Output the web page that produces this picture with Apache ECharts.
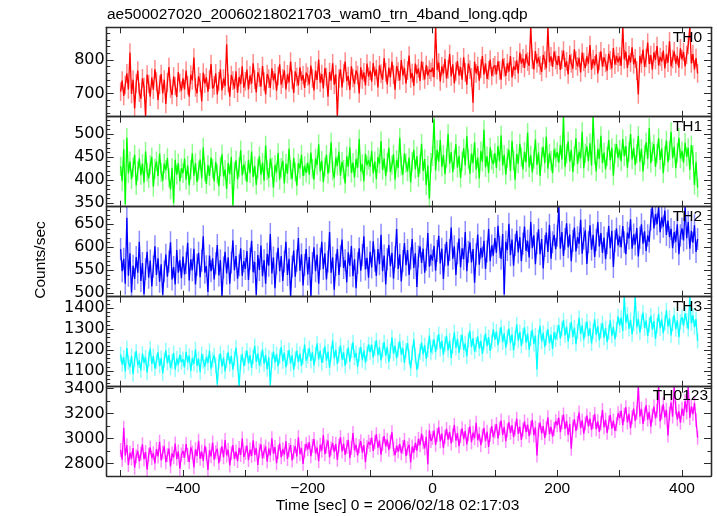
<!DOCTYPE html>
<html><head><meta charset="utf-8">
<script src="https://cdn.jsdelivr.net/npm/echarts@6/dist/echarts.min.js"></script>
<style>html,body{margin:0;padding:0;background:#fff}#c{width:717px;height:516px}</style>
</head><body><div id="c"></div>
<script>
// time grid: bins start at -500 s, every 2.5 s
const T_START = -500, T_STEP = 2.5;

const TH0 = [
705,738,692,725,760,712,822,698,741,655,730,768,702,684,745,719,633,756,728,690,747,711,772,735,680,726,758,700,741,668,733,779,714,695,750,722,689,764,731,708,
745,712,768,724,690,756,739,807,718,700,751,733,676,762,729,748,705,741,788,715,724,760,697,736,772,709,744,722,847,731,690,755,738,714,766,702,749,728,781,717,
736,771,712,754,729,790,741,703,763,748,720,782,735,697,758,744,716,775,739,760,708,752,787,726,745,769,712,757,733,795,741,701,766,749,724,778,738,755,716,762,
751,727,783,745,709,768,740,801,732,758,715,776,749,690,764,738,790,726,757,633,744,772,718,761,795,737,752,710,781,746,728,769,755,700,778,742,763,724,789,750,
768,735,791,752,772,718,784,759,741,806,763,727,777,748,795,756,711,782,765,739,800,754,776,729,768,813,745,761,722,789,758,775,737,796,767,742,785,753,771,764,
777,748,898,770,792,736,781,759,803,745,772,818,751,787,730,766,797,754,779,741,808,763,726,789,771,748,672,795,760,782,738,774,812,756,790,743,769,801,752,778,
784,757,796,769,741,803,778,752,790,765,812,748,781,770,799,760,822,789,805,776,818,795,783,898,801,772,827,790,808,784,764,815,798,775,897,793,811,779,825,800,
785,812,770,801,828,779,796,757,815,790,774,832,798,781,806,763,822,794,776,811,789,845,771,803,784,817,760,797,826,780,808,791,768,819,799,775,836,786,812,793,
810,783,898,802,825,776,814,793,838,787,805,768,697,812,790,831,779,806,852,788,815,771,823,800,842,784,809,795,828,775,817,792,856,781,803,826,789,812,777,835,
802,824,781,815,845,898,790,818,772,806,760];

const TH1 = [
430,398,467,348,492,415,441,402,428,455,389,420,447,411,436,395,462,418,404,433,450,386,425,441,409,458,417,399,436,422,448,405,380,427,351,444,412,437,398,426,
415,447,401,432,389,423,458,410,437,396,421,445,404,471,418,392,433,409,449,425,398,440,414,387,430,456,408,423,381,437,413,450,346,419,443,402,428,465,411,434,
420,396,444,415,462,407,431,390,426,452,412,438,399,475,421,405,446,428,384,433,417,459,401,427,442,393,436,414,468,422,403,448,418,388,437,425,455,409,431,416,
438,412,460,425,401,447,433,478,419,442,396,429,455,414,437,482,421,405,449,431,462,410,440,423,393,452,429,471,416,438,406,446,427,489,419,435,398,457,432,444,
429,463,415,441,402,450,436,485,422,447,409,438,470,418,433,456,401,444,427,492,431,412,458,437,419,449,395,440,466,424,452,407,435,479,420,446,389,432,360,438,
452,532,421,466,440,487,429,455,413,448,500,436,461,418,445,478,427,453,405,441,469,432,495,446,414,458,437,482,423,449,404,463,440,509,428,452,416,471,444,435,
459,426,474,441,497,432,455,412,448,466,420,485,443,401,457,436,479,450,424,462,439,503,428,454,417,446,488,433,460,409,451,472,437,494,425,458,442,415,467,449,
461,438,476,445,537,429,457,484,440,466,418,452,491,435,462,447,505,426,458,473,441,480,432,537,455,419,468,446,496,437,460,424,452,487,443,470,410,458,478,449,
466,441,489,452,474,427,461,500,445,470,433,457,496,440,468,419,455,482,446,513,437,462,478,429,458,491,444,469,415,453,486,439,464,505,448,473,426,459,492,447,
463,438,481,451,470,422,476,455,390,440,384];

const TH2 = [
596,548,575,521,664,538,587,502,560,531,579,545,612,527,566,498,553,590,534,571,515,558,602,540,576,525,563,497,548,584,536,569,611,530,557,519,594,545,572,533,
580,541,566,610,528,574,550,597,519,562,588,535,571,624,545,559,503,582,548,576,530,565,605,539,572,494,556,590,543,578,521,567,615,550,581,532,561,598,538,570,
553,592,529,575,614,546,568,497,583,551,604,537,572,521,586,560,629,543,578,511,565,599,548,581,527,569,612,540,575,494,558,593,536,571,620,549,585,517,562,596,
541,579,493,566,600,548,584,521,575,612,553,587,530,569,633,545,578,508,562,596,540,581,617,555,572,524,589,560,603,537,574,511,566,598,549,583,624,552,577,534,
590,556,613,571,538,596,563,627,548,582,519,574,605,559,588,532,579,640,553,585,526,570,609,561,594,540,576,618,555,587,514,580,602,566,597,545,573,631,558,584,
571,603,549,592,625,565,597,531,583,612,560,594,643,575,602,540,587,619,556,598,574,633,548,590,611,567,596,523,585,628,562,599,578,614,553,591,640,570,604,582,
620,588,647,601,575,629,498,612,594,651,583,617,560,605,636,589,622,570,608,645,592,614,578,655,598,626,563,609,639,585,618,554,603,632,590,649,575,611,627,596,
625,688,597,633,581,618,652,600,628,570,614,643,591,622,608,660,586,619,637,564,611,648,595,627,579,616,655,602,631,588,621,574,609,646,598,636,557,613,641,604,
624,600,646,611,585,632,619,661,597,628,606,642,580,621,650,608,635,592,626,612,660,688,641,672,650,688,633,665,645,680,627,658,622,640,598,633,612,650,585,626,
641,615,688,620,655,597,636,610,648,590,618];

const TH3 = [
1180,1132,1165,1098,1210,1141,1119,1172,1085,1156,1195,1127,1150,1103,1183,1139,1166,1092,1158,1207,1134,1171,1112,1147,1190,1124,1162,1088,1153,1199,1138,1176,1115,1145,1186,1107,1160,1130,1178,1142,
1156,1118,1192,1140,1173,1101,1162,1135,1204,1126,1158,1094,1181,1147,1120,1168,1139,1197,1111,1153,1175,1128,1036,1146,1185,1121,1164,1098,1150,1189,1133,1172,1106,1159,1212,1137,1030,1143,1180,1124,
1161,1198,1137,1176,1115,1169,1220,1143,1185,1126,1158,1203,1134,1177,1109,1166,1034,1152,1193,1140,1181,1122,1170,1214,1147,1188,1118,1163,1200,1135,1175,1106,1159,1197,1142,1183,1125,1168,1226,1150,
1172,1209,1148,1190,1127,1181,1232,1156,1197,1139,1175,1218,1150,1193,1116,1184,1246,1160,1201,1134,1178,1223,1154,1189,1125,1170,1212,1145,1196,1237,1163,1186,1120,1179,1215,1152,1199,1140,1183,1228,
1190,1226,1165,1208,1247,1176,1213,1151,1199,1238,1172,1216,1143,1195,1261,1183,1221,1160,1204,1242,1178,1210,1139,1197,1233,1168,1112,1186,1252,1173,1105,1147,1192,1236,1180,1224,1158,1201,1270,1188,
1215,1251,1190,1236,1277,1204,1243,1178,1229,1268,1199,1246,1163,1222,1285,1210,1254,1187,1238,1273,1201,1231,1170,1248,1292,1214,1257,1193,1226,1266,1207,1244,1182,1235,1279,1219,1262,1196,1240,1300,
1250,1289,1224,1271,1310,1238,1280,1212,1263,1303,1233,1275,1198,1258,1322,1245,1287,1220,1268,1309,1236,1279,1202,1255,1297,1229,1270,1108,1264,1316,1241,1283,1215,1260,1301,1232,1274,1206,1286,1251,
1284,1320,1256,1301,1343,1270,1312,1241,1295,1334,1263,1308,1229,1289,1355,1276,1318,1250,1298,1338,1267,1304,1232,1290,1347,1273,1315,1247,1293,1330,1259,1306,1238,1286,1342,1269,1311,1252,1299,1362,
1318,1355,1290,1455,1331,1372,1301,1345,1276,1327,1455,1309,1350,1283,1336,1380,1305,1341,1268,1322,1364,1298,1339,1254,1316,1373,1304,1347,1281,1330,1390,1312,1353,1270,1326,1368,1300,1344,1262,1335,
1358,1317,1376,1340,1300,1455,1329,1366,1310,1348,1244];

const TH0123 = [
2910,2832,3088,2865,2948,2790,2887,2841,2925,2768,2860,2902,2818,2879,2955,2836,2893,2752,2871,2930,2845,2884,2803,2917,2858,2975,2826,2889,2940,2812,2868,2921,2779,2882,2851,2962,2839,2898,2760,2874,
2902,2848,2957,2870,2814,2931,2889,2771,2915,2862,2983,2840,2896,2823,2944,2877,2750,2908,2859,2970,2833,2891,2919,2805,2874,2938,2851,2990,2866,2912,2786,2883,2949,2838,2897,2821,2926,2870,3002,2855,
2887,2945,2829,2913,2862,2988,2871,2924,2790,2906,2955,2843,2898,2937,2817,2920,2868,3003,2880,2933,2805,2894,2962,2851,2916,2873,2979,2838,2909,2949,2826,2891,2941,2858,3012,2877,2925,2799,2902,2958,
2915,2972,2860,2941,2997,2883,2929,2820,2952,2904,3030,2876,2938,2986,2851,2922,2965,2893,2957,2831,2944,3012,2898,2961,2870,2933,2990,2845,2926,3045,2907,2950,2866,2939,2980,2889,2948,2812,2931,2975,
2950,3008,2903,2971,3036,2928,2985,2872,2960,3021,2939,2992,2911,2976,3052,2919,2868,2943,2897,2956,2884,2931,2990,2862,2924,2951,2810,2937,2889,2966,2905,2998,2948,3040,2972,2923,3015,2795,3066,2982,
3008,3065,2951,3030,3092,2979,3041,2927,3016,3078,2993,3052,2962,3027,3110,2985,3044,2940,3019,3083,2996,3060,2955,3035,3098,2972,3048,3004,3127,2988,3039,2948,3023,3087,2981,3056,2934,3031,3101,3012,
3060,3118,3003,3082,3145,3030,3093,2981,3068,3132,3047,3106,3012,3079,3160,3038,3097,2990,3071,3138,3052,3112,3021,3087,3150,3026,3090,2865,3074,3129,3043,3101,3007,3083,3171,3036,3095,3016,3077,3140,
3108,3168,3052,3132,3193,3079,3141,3030,3118,2920,3096,3155,3063,3127,3210,3084,3146,3041,3121,3185,3099,3160,3070,3134,3198,3076,3139,3055,3124,3230,3090,3151,3047,3129,3188,3081,3144,3062,3116,3203,
3165,3224,3108,3191,3252,3130,3199,3085,3172,3240,3143,3207,3416,3176,3239,3119,3195,3268,3153,3214,3097,3186,3257,3162,3223,3416,3138,3209,3275,3170,3231,3025,3200,3290,3177,3416,3246,3155,3219,3128,
3240,3183,3302,3211,3416,3166,3258,3197,3285,3150,3008];

const panelNames = ['TH0', 'TH1', 'TH2', 'TH3', 'TH0123'];
const panelValues = [TH0, TH1, TH2, TH3, TH0123];
// typical 1-sigma error bar of each band, read from the light halo (counts/sec)
const panelErrors = [28, 21, 24, 36, 56];

// tick values
const xTickValues = [-500, -400, -300, -200, -100, 0, 100, 200, 300, 400];
const xLabelValues = [-400, -200, 0, 200, 400];
const yMajorValues = [
  [700, 800],
  [350, 400, 450, 500],
  [500, 550, 600, 650],
  [1100, 1200, 1300, 1400],
  [2800, 3000, 3200, 3400]
];
const yMinorValues = [
  [640, 660, 680, 720, 740, 760, 780, 820, 840, 860, 880],
  [360, 370, 380, 390, 410, 420, 430, 440, 460, 470, 480, 490, 510, 520, 530],
  [510, 520, 530, 540, 560, 570, 580, 590, 610, 620, 630, 640, 660, 670, 680],
  [1040, 1060, 1080, 1120, 1140, 1160, 1180, 1220, 1240, 1260, 1280, 1320, 1340, 1360, 1380, 1420, 1440],
  [2900, 3100, 3300]
];

// layout / styling
const X_MIN = -522.3, X_MAX = 446.5;
const Y_RANGE = [[630, 898], [342.7, 537.5], [492.6, 688.3], [1025, 1455.5], [2701.6, 3416]];
const PANEL_TOP = [27.3, 116.7, 206.7, 296.7, 386.7];
const PANEL_H = [89.4, 90, 90, 90, 89.3];
const COLORS = ['#ff0000', '#00ff00', '#0000ff', '#00ffff', '#ff00ff'];
const FRAME = '#2a2a2a';
const FONT = 'Liberation Sans';

const times = TH0.map((_, i) => T_START + i * T_STEP);
const fmt = v => (v < 0 ? '\u2212' + Math.abs(v) : String(v));

const grid = [], xAxis = [], yAxis = [], series = [];
for (let i = 0; i < 5; i++) {
  grid.push({ left: 106.7, width: 604.3, top: PANEL_TOP[i], height: PANEL_H[i], containLabel: false });
  ['bottom', 'top'].forEach(pos => {
    xAxis.push({
      gridIndex: i, type: 'value', position: pos, min: X_MIN, max: X_MAX, z: 10,
      axisLine: { show: true, onZero: false, lineStyle: { color: FRAME, width: 1.3 } },
      axisTick: { show: true, inside: true, length: 6, customValues: xTickValues, lineStyle: { color: FRAME, width: 1 } },
      axisLabel: { show: (i === 4 && pos === 'bottom'), customValues: xLabelValues, formatter: fmt,
        margin: 5, fontFamily: FONT, fontSize: 15.5, color: '#000' },
      splitLine: { show: false }
    });
  });
  ['left', 'right'].forEach(pos => {
    [true, false].forEach(major => {
      yAxis.push({
        gridIndex: i, type: 'value', position: pos, min: Y_RANGE[i][0], max: Y_RANGE[i][1], z: 10,
        axisLine: { show: true, onZero: false, lineStyle: { color: FRAME, width: 1.3 } },
        axisTick: { show: true, inside: true, length: major ? 7 : 3.5,
          customValues: major ? yMajorValues[i] : yMinorValues[i], lineStyle: { color: FRAME, width: 1 } },
        axisLabel: { show: (pos === 'left' && major), customValues: yMajorValues[i], formatter: fmt,
          margin: 2, fontFamily: 'DejaVu Sans', fontSize: 16, color: '#000' },
        splitLine: { show: false }
      });
    });
  });
  const color = COLORS[i];
  const err = panelErrors[i];
  // vertical error bars (light halo)
  series.push({
    type: 'custom', xAxisIndex: 2 * i, yAxisIndex: 4 * i, clip: true, z: 1, silent: true,
    data: times.map((t, k) => [t, panelValues[i][k]]),
    encode: { x: 0, y: 1 },
    renderItem: (params, api) => {
      const x = api.value(0), y = api.value(1);
      const p1 = api.coord([x, y - err]), p2 = api.coord([x, y + err]);
      return { type: 'line', shape: { x1: p1[0], y1: p1[1], x2: p2[0], y2: p2[1] },
        style: { stroke: color, lineWidth: 1.5, opacity: 0.45 } };
    },
    animation: false
  });
  series.push({
    type: 'line', xAxisIndex: 2 * i, yAxisIndex: 4 * i, z: 2,
    data: times.map((t, k) => [t, panelValues[i][k]]),
    showSymbol: false, symbol: 'none', clip: true,
    lineStyle: { color: color, width: 1.3 },
    itemStyle: { color: color },
    animation: false
  });
}

const labelPos = [[702, 37.5], [702, 127], [702, 217], [702, 307], [708, 396]];
const graphic = [
  { type: 'text', left: 107, top: 7, style: { text: 'ae500027020_20060218021703_wam0_trn_4band_long.qdp',
    font: '15.5px "Liberation Sans"', fill: '#000' } },
  { type: 'text', x: 41, y: 260, rotation: Math.PI / 2,
    style: { text: 'Counts/sec', font: '15.5px "Liberation Sans"', fill: '#000', align: 'center', verticalAlign: 'middle' } },
  { type: 'text', x: 397.5, y: 506,
    style: { text: 'Time [sec] 0 = 2006/02/18 02:17:03', font: '15.5px "Liberation Sans"', fill: '#000', align: 'center', verticalAlign: 'middle' } }
];
panelNames.forEach((n, i) => {
  graphic.push({ type: 'text', x: labelPos[i][0], y: labelPos[i][1], z: 100,
    style: { text: n, font: '15.5px "Liberation Sans"', fill: '#000', align: 'right', verticalAlign: 'middle' } });
});

const chart = echarts.init(document.getElementById('c'), null, { renderer: 'canvas' });
chart.setOption({ backgroundColor: '#fff', animation: false, grid, xAxis, yAxis, series, graphic });
</script></body></html>
